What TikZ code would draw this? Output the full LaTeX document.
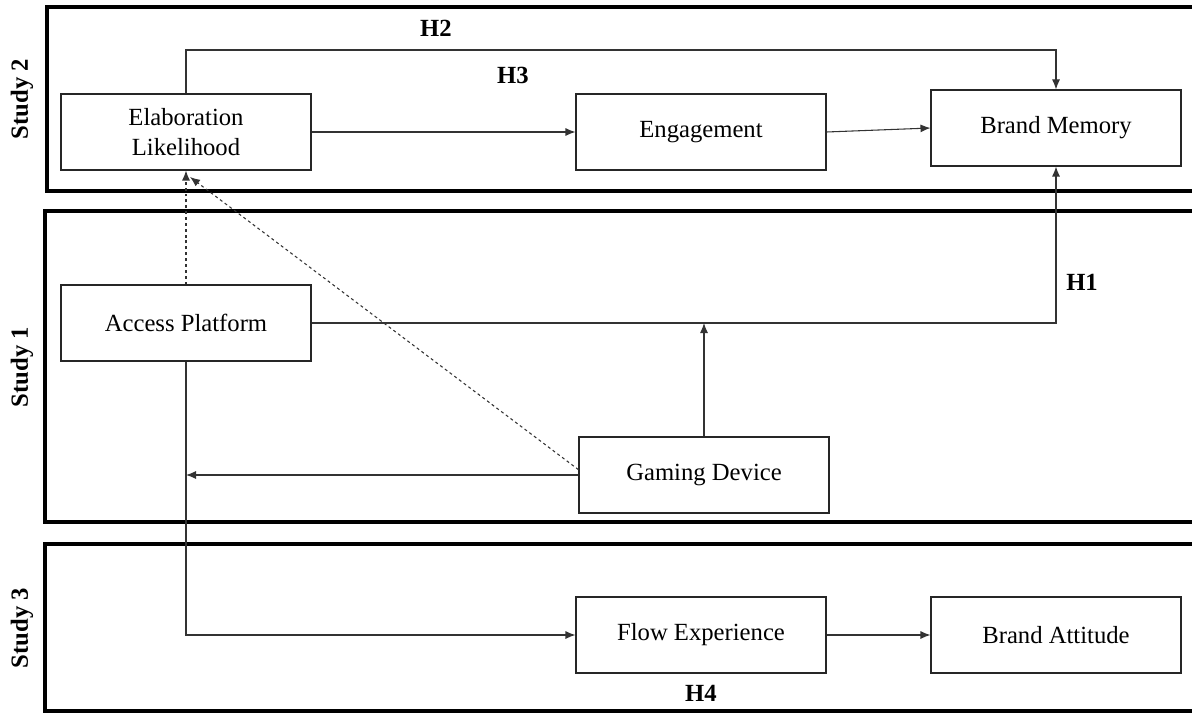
\documentclass[tikz,border=0pt]{standalone}
\usepackage{fontspec}
\setmainfont{Liberation Serif}
\usetikzlibrary{arrows.meta,calc}
\begin{document}
\begin{tikzpicture}[x=0.75pt,y=-0.75pt,
  box/.style={draw=black!85,line width=0.8pt,minimum width=187.5pt,minimum height=57pt,
    inner sep=2pt,align=center,font=\fontsize{18.5}{22.5}\selectfont},
  panel/.style={draw=black,line width=2.4pt},
  studylbl/.style={rotate=90,font=\fontsize{18.5}{22}\selectfont\bfseries},
  hyp/.style={font=\fontsize{18.5}{22}\selectfont\bfseries},
  link/.style={draw=black!80,line width=0.8pt,-{Latex[length=7.5pt,width=6pt]}},
  dlink/.style={link,dash pattern=on 2.2pt off 2.2pt}]
\useasboundingbox (0,0) rectangle (1192,713);
\clip (0,0) rectangle (1192,713);

% study panels (open to the right)
\draw[panel] (47,7) rectangle (1210,191);
\draw[panel] (45,211) rectangle (1210,522);
\draw[panel] (45,544) rectangle (1210,711);

\node[studylbl] (s2) at (22,99) {Study 2};
\node[studylbl] (s1) at (22,367) {Study 1};
\node[studylbl] (s3) at (22,628) {Study 3};

% constructs
\node[box] (el) at (186,132) {Elaboration\\Likelihood};
\node[box] (en) at (701,132) {Engagement};
\node[box] (bm) at (1056,128) {Brand Memory};
\node[box] (ap) at (186,323) {Access Platform};
\node[box] (gd) at (704,475) {Gaming Device};
\node[box] (fe) at (701,635) {Flow Experience};
\node[box] (ba) at (1056,635) {Brand Attitude};

% hypothesis labels
\node[hyp] (h2) at (436,28) {H2};
\node[hyp] (h3) at (513,75) {H3};
\node[hyp] (h1) at (1082,282) {H1};
\node[hyp] (h4) at (701,693) {H4};

\coordinate (h2y) at (0,50);
\coordinate (dtip) at (190,177);

% paths
\draw[link] (el.north) -- (el.north |- h2y) -| (bm.north);
\draw[link] (el.east) -- (en.west);
\draw[link] (en.east) -- (bm.west);
\draw[link] (ap.east) -| (bm.south);
\draw[link] (gd.north) -- (gd.north |- ap.east);
\draw[link] (gd.west) -- (ap.south |- gd.west);
\draw[link] (ap.south) |- (fe.west);
\draw[link] (fe.east) -- (ba.west);
\draw[dlink] (ap.north) -- (el.south);
\draw[dlink] ([yshift=4pt]gd.west) -- (dtip);
\end{tikzpicture}
\end{document}
